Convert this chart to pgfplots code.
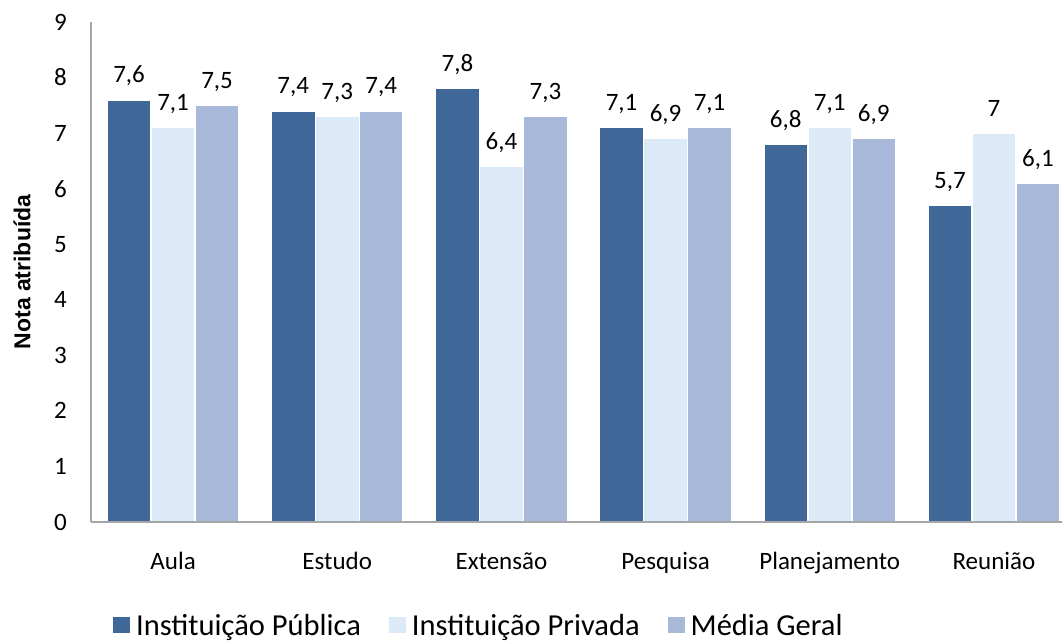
\documentclass[border=0pt]{standalone}
\usepackage{pgfplots}
\pgfplotsset{compat=1.18}
\usepackage{pgfplotstable}
\usepackage{fontspec}
\setmainfont{Carlito}
\newfontfamily\labelfont{Liberation Sans}

\definecolor{publica}{HTML}{3F6798}
\definecolor{privada}{HTML}{DCEAF8}
\definecolor{media}{HTML}{A8B9D9}
\definecolor{eixo}{HTML}{A6A6A6}

% Nota atribuída por atividade: 0 Aula, 1 Estudo, 2 Extensão, 3 Pesquisa, 4 Planejamento, 5 Reunião
\pgfplotstableread{
cat pub  priv med
0   7.6  7.1  7.5
1   7.4  7.3  7.4
2   7.8  6.4  7.3
3   7.1  6.9  7.1
4   6.8  7.1  6.9
5   5.7  7.0  6.1
}\notas

\begin{document}
\begin{tikzpicture}
\begin{axis}[
  name=ax,
  scale only axis, width=985pt, height=500pt,
  xmin=-0.5, xmax=5.5, ymin=0, ymax=9,
  axis x line*=bottom, axis y line*=left,
  axis line style={eixo, line width=1.3pt},
  axis on top,
  xtick={0,...,5},
  xticklabels={Aula,Estudo,Extensão,Pesquisa,Planejamento,Reunião},
  ytick={0,...,9},
  major tick length=0pt,
  tick label style={font=\fontsize{25}{30}\selectfont, text=black},
  y tick label style={anchor=east, inner sep=0pt, xshift=-24pt},
  x tick label style={anchor=base, inner sep=0pt, yshift=-48pt},
  /pgf/number format/.cd, use comma, 1000 sep={}, assume math mode=true,
  /pgfplots/.cd,
  ylabel={Nota atribuída},
  every axis y label/.style={at={(axis description cs:-0.070,0.5)}, rotate=90, anchor=center,
    font=\labelfont\bfseries\fontsize{23}{28}\selectfont},
  ybar, bar width=0.268,
  nodes near coords,
  every node near coord/.append style={font=\fontsize{25}{30}\selectfont, anchor=base, inner sep=0pt, yshift=17pt, text=black},
  legend columns=-1,
  legend style={draw=none, fill=none, inner sep=0pt,
    at={(axis description cs:0.0223,-0.231)}, anchor=south west,
    font=\fontsize{30.5}{36}\selectfont,
    nodes={inner xsep=2pt, inner ysep=0pt},
    /tikz/every odd column/.append style={column sep=4pt},
    /tikz/every even column/.append style={column sep=26pt}},
  legend image code/.code={\fill[#1,draw=none] (0pt,-7pt) rectangle (17pt,9pt);},
]
\addplot[fill=publica, draw=white, line width=1.5pt, bar shift=-0.268] table[x=cat, y=pub] {\notas};
\addplot[fill=privada, draw=white, line width=1.5pt, bar shift=0] table[x=cat, y=priv] {\notas};
\addplot[fill=media, draw=white, line width=1.5pt, bar shift=0.268] table[x=cat, y=med] {\notas};
\legend{Instituição Pública, Instituição Privada, Média Geral}
\end{axis}
\pgfresetboundingbox
\path ([xshift=-91pt,yshift=-120pt]ax.south west) rectangle ([xshift=971pt,yshift=22pt]ax.north west);
\end{tikzpicture}
\end{document}
